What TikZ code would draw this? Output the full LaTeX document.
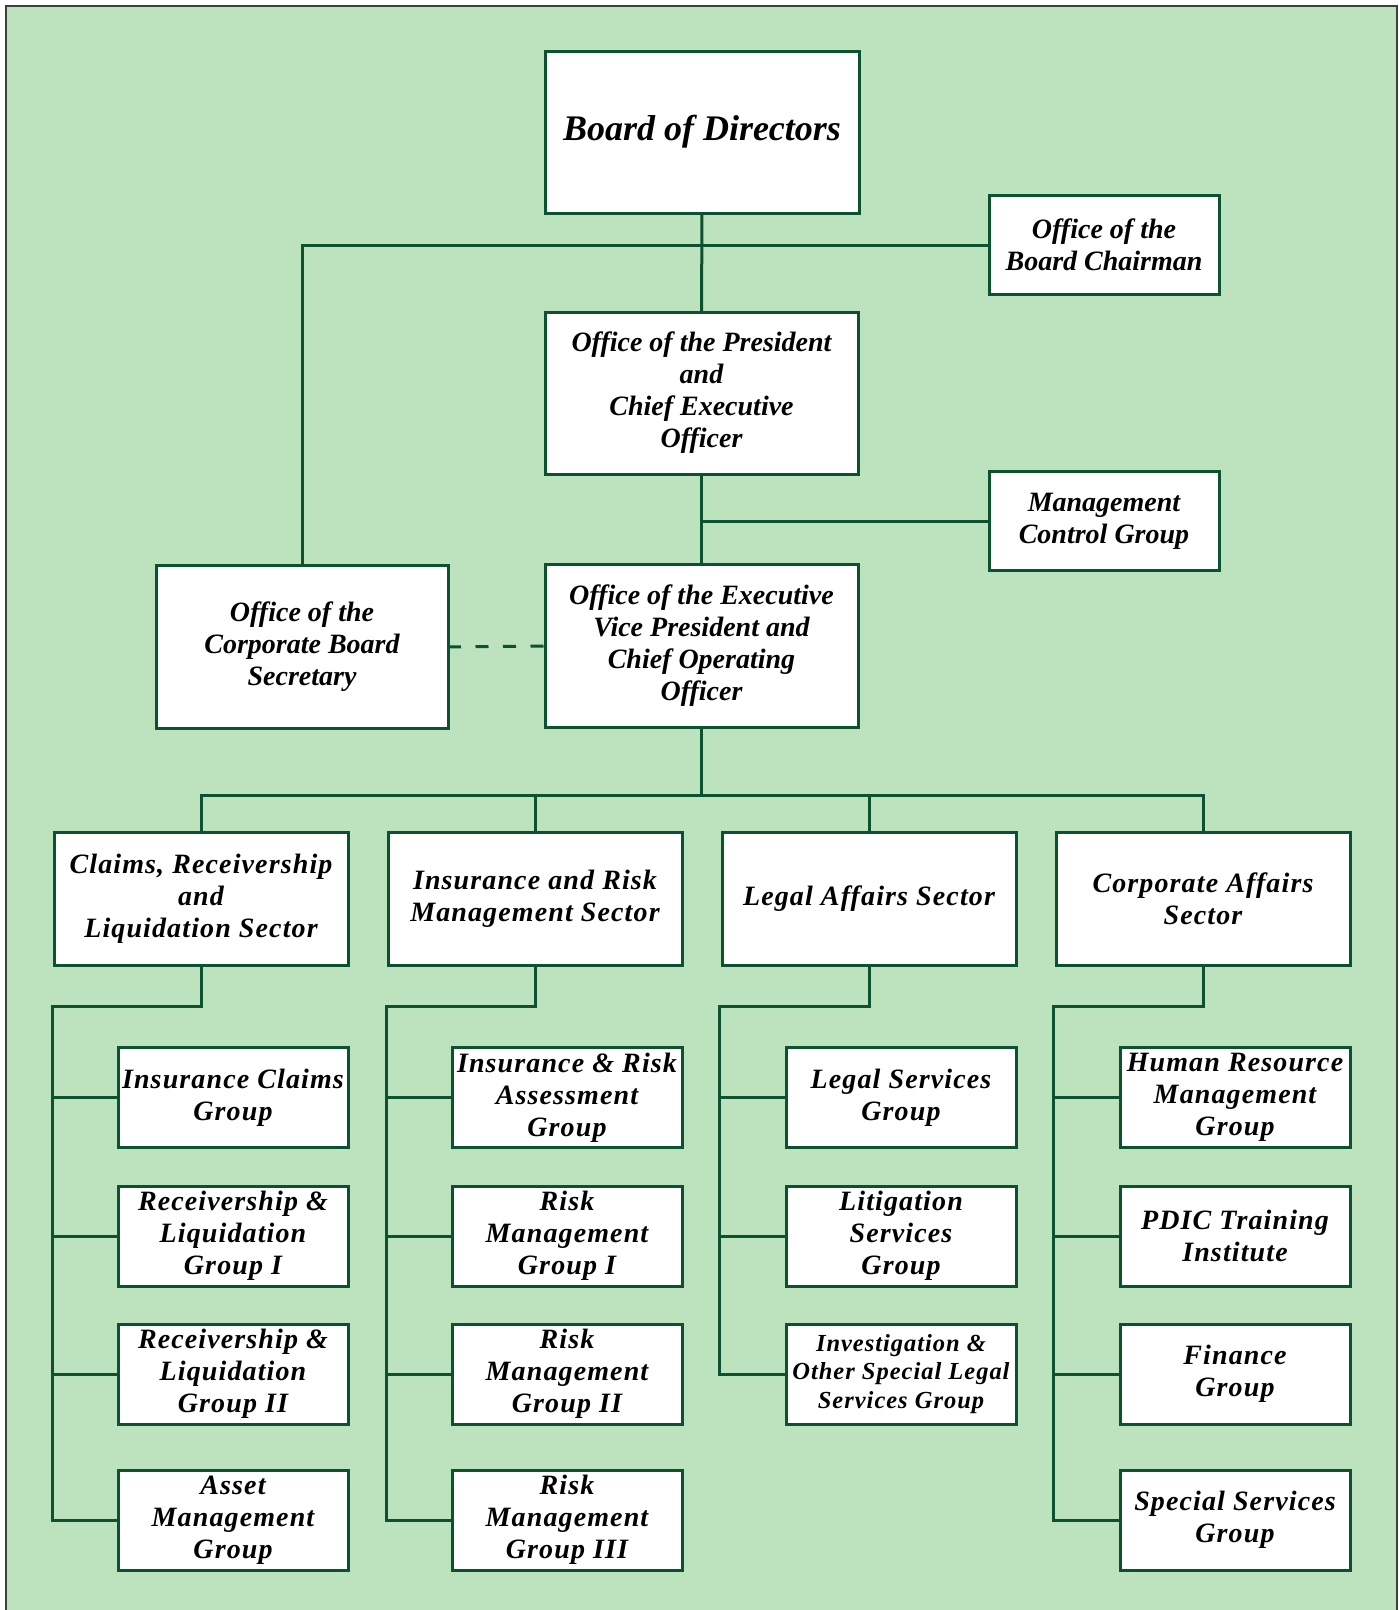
\documentclass[tikz,border=0pt]{standalone}
\usepackage{fontspec}
\setmainfont{Liberation Serif}
\newfontfamily\widefont{Liberation Serif}[LetterSpace=4]
\usepackage{tikz}
\usetikzlibrary{positioning}

\definecolor{bggreen}{RGB}{188,227,189}
\definecolor{linegreen}{RGB}{12,82,48}
\definecolor{framegray}{RGB}{60,64,60}

\tikzset{
  box/.style    = {draw=linegreen, line width=3pt, fill=white, rectangle, inner sep=0pt, outer sep=0pt, align=center},
  office/.style = {box, minimum width=313pt, minimum height=162pt, font=\bfseries\itshape\fontsize{28}{32}\selectfont},
  side/.style   = {box, minimum width=230pt, minimum height=99pt, font=\bfseries\itshape\fontsize{28}{32}\selectfont},
  sector/.style = {box, minimum width=294pt, minimum height=133pt, font=\widefont\bfseries\itshape\fontsize{28}{32}\selectfont},
  group/.style  = {box, minimum width=230pt, minimum height=100pt, font=\widefont\bfseries\itshape\fontsize{28}{32}\selectfont},
  link/.style   = {draw=linegreen, line width=3pt}
}

\begin{document}
\begin{tikzpicture}[x=1pt, y=-1pt]

\useasboundingbox (0,0) rectangle (1399,1610);
\fill [bggreen] (6,6) rectangle (1397,1620);
\draw [framegray, line width=1.4pt] (6,1620) -- (6,6) -- (1397,6) -- (1397,1620);

% top of the chart
\node [office, font=\bfseries\itshape\fontsize{36}{40}\selectfont, minimum width=314pt] at (702,132)   (bod)   {Board of Directors};
\node [side                                                                           ] at (1104,245)  (chair) {Office of the\\Board Chairman};
\node [office                                                                         ] at (701.5,393) (pres)  {Office of the President\\and\\Chief Executive\\Officer};
\node [side                                                                           ] at (1104,521)  (mcg)   {Management\\Control Group};
\node [office, minimum width=292pt, minimum height=163pt                               ] at (302,647)   (ocbs)  {Office of the\\Corporate Board\\Secretary};
\node [office, minimum height=163pt                                                   ] at (701.5,646) (evp)   {Office of the Executive\\Vice President and\\Chief Operating\\Officer};

% sectors
\node [sector                  ] at (201,899) (s1) {Claims, Receivership\\and\\Liquidation Sector};
\node [sector, right=40pt of s1]              (s2) {Insurance and Risk\\Management Sector};
\node [sector, right=40pt of s2]              (s3) {Legal Affairs Sector};
\node [sector, right=40pt of s3]              (s4) {Corporate Affairs\\Sector};

% groups
\node [group, anchor=north east] at ([yshift=-82pt]s1.south east) (g11) {Insurance Claims\\Group};
\node [group, below=38.5pt of g11] (g12) {Receivership \&\\Liquidation\\Group I};
\node [group, below=38pt of g12  ] (g13) {Receivership \&\\Liquidation\\Group II};
\node [group, below=46pt of g13  ] (g14) {Asset\\Management\\Group};

\node [group, anchor=north east] at ([yshift=-82pt]s2.south east) (g21) {Insurance \& Risk\\Assessment\\Group};
\node [group, below=38.5pt of g21] (g22) {Risk\\Management\\Group I};
\node [group, below=38pt of g22  ] (g23) {Risk\\Management\\Group II};
\node [group, below=46pt of g23  ] (g24) {Risk\\Management\\Group III};

\node [group, anchor=north east] at ([yshift=-82pt]s3.south east) (g31) {Legal Services\\Group};
\node [group, below=38.5pt of g31] (g32) {Litigation\\Services\\Group};
\node [group, below=38pt of g32, font=\widefont\bfseries\itshape\fontsize{24.5}{28.5}\selectfont] (g33) {Investigation \&\\Other Special Legal\\Services Group};

\node [group, anchor=north east] at ([yshift=-82pt]s4.south east) (g41) {Human Resource\\Management\\Group};
\node [group, below=38.5pt of g41] (g42) {PDIC Training\\Institute};
\node [group, below=38pt of g42  ] (g43) {Finance\\Group};
\node [group, below=46pt of g43  ] (g44) {Special Services\\Group};

% joints
\coordinate (bus) at (701.5,795.5);
\coordinate (k1)  at (52.3,1006);
\coordinate (k2)  at (386,1006);
\coordinate (k3)  at (719.5,1006);
\coordinate (k4)  at (1053,1006);

% top links
\path [link] (bod.south) -- (pres.north);
\path [link] (chair.west) -- (chair.west -| ocbs.north) -- (ocbs.north);
\path [link] (pres.south) -- (evp.north);
\path [link] (mcg.west) -- (mcg.west -| evp.north);
\path [link, dash pattern=on 13pt off 14.5pt] (ocbs.east) -- (evp.west);

% sector bus
\path [link] (evp.south) -- (bus);
\path [link] (s1.north) -- (s1.north |- bus) -- (s4.north |- bus) -- (s4.north);
\path [link] (s2.north) -- (s2.north |- bus);
\path [link] (s3.north) -- (s3.north |- bus);

% group trees
\path [link] (s1.south) -- (s1.south |- k1) -- (k1) -- (k1 |- g14.west) -- (g14.west);
	\path [link] (k1 |- g11.west) -- (g11.west);
	\path [link] (k1 |- g12.west) -- (g12.west);
	\path [link] (k1 |- g13.west) -- (g13.west);
\path [link] (s2.south) -- (s2.south |- k2) -- (k2) -- (k2 |- g24.west) -- (g24.west);
	\path [link] (k2 |- g21.west) -- (g21.west);
	\path [link] (k2 |- g22.west) -- (g22.west);
	\path [link] (k2 |- g23.west) -- (g23.west);
\path [link] (s3.south) -- (s3.south |- k3) -- (k3) -- (k3 |- g33.west) -- (g33.west);
	\path [link] (k3 |- g31.west) -- (g31.west);
	\path [link] (k3 |- g32.west) -- (g32.west);
\path [link] (s4.south) -- (s4.south |- k4) -- (k4) -- (k4 |- g44.west) -- (g44.west);
	\path [link] (k4 |- g41.west) -- (g41.west);
	\path [link] (k4 |- g42.west) -- (g42.west);
	\path [link] (k4 |- g43.west) -- (g43.west);

\end{tikzpicture}
\end{document}
